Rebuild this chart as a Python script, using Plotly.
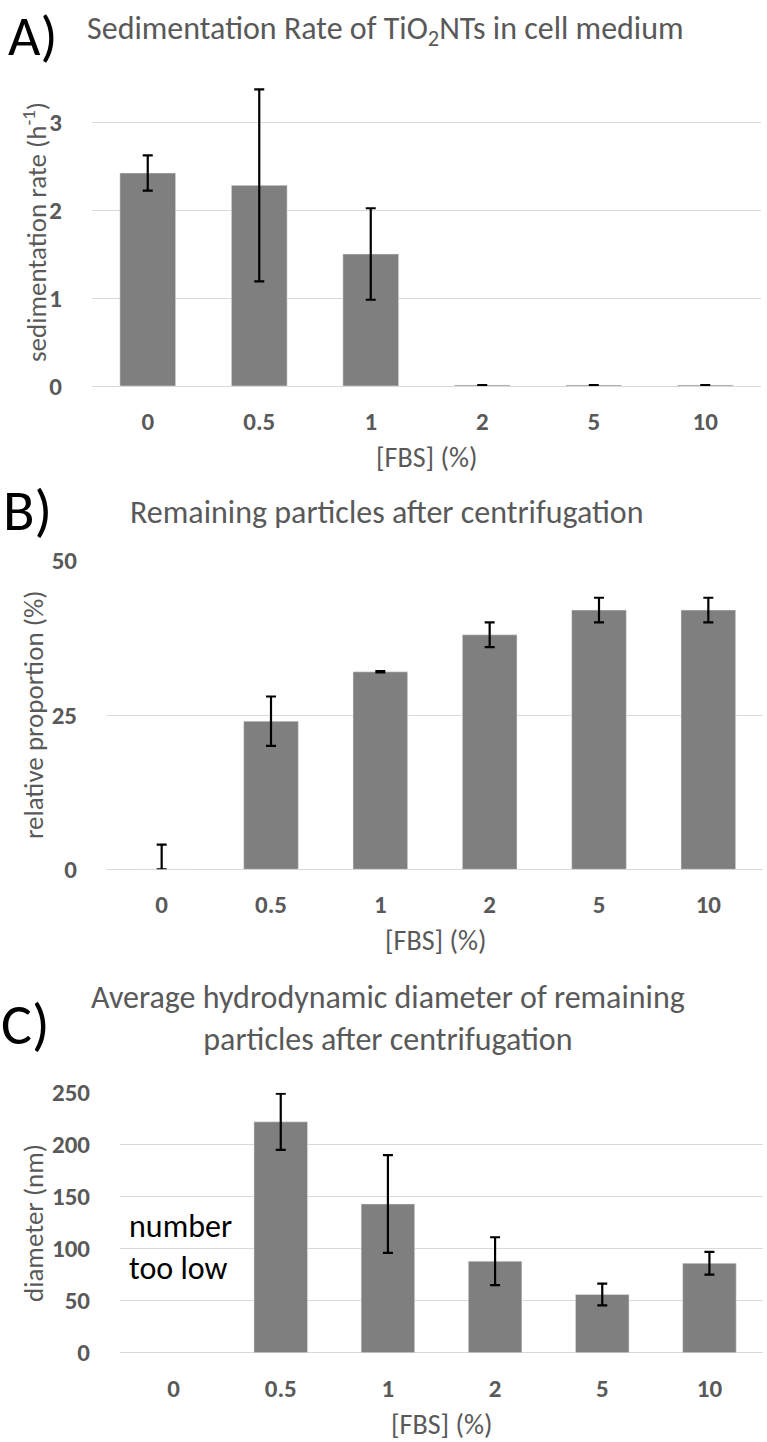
import plotly.graph_objects as go

W, H = 767, 1442

categories = ["0", "0.5", "1", "2", "5", "10"]

# Panel A: sedimentation rate (h^-1)
sed_rate = [2.42, 2.28, 1.50, 0.01, 0.01, 0.01]
sed_err = [0.20, 1.09, 0.52, None, None, None]

# Panel B: remaining particles (%)
remain = [0, 24, 32, 38, 42, 42]
remain_err_plus = [4, 4, 0.1, 2, 2, 2]
remain_err_minus = [0, 4, 0.1, 2, 2, 2]

# Panel C: hydrodynamic diameter (nm)
diam = [None, 222, 143, 88, 56, 86]
diam_err = [None, 27, 47, 23, 10.5, 11]

FONT = "Carlito, Lato, Liberation Sans, Arial"
GREY = "#595959"
BAR = "#7f7f7f"
GRID = "#d9d9d9"

def px_x(p):
    return p / W

def px_y(p):
    return 1 - p / H

fig = go.Figure()

err_style = dict(color="black", thickness=2.2, width=5)

fig.add_trace(go.Bar(x=categories, y=sed_rate, marker_color=BAR,
                     error_y=dict(type="data", array=sed_err, **err_style),
                     xaxis="x", yaxis="y", showlegend=False))
fig.add_trace(go.Bar(x=categories, y=remain, marker_color=BAR,
                     error_y=dict(type="data", symmetric=False, array=remain_err_plus,
                                  arrayminus=remain_err_minus, **err_style),
                     xaxis="x2", yaxis="y2", showlegend=False))
fig.add_trace(go.Bar(x=categories, y=diam, marker_color=BAR,
                     error_y=dict(type="data", array=diam_err, **err_style),
                     xaxis="x3", yaxis="y3", showlegend=False))

TICKFONT = dict(family=FONT, size=25, color=GREY, weight="bold")

def xaxis(dom, anchor):
    return dict(domain=[px_x(dom[0]), px_x(dom[1])], anchor=anchor, type="category",
                showgrid=False, zeroline=False, showline=False,
                ticks="outside", ticklen=13, tickcolor="rgba(0,0,0,0)",
                tickfont=TICKFONT, fixedrange=True)

def yaxis(dom, rng, dtick, anchor):
    return dict(domain=[px_y(dom[1]), px_y(dom[0])], anchor=anchor, range=rng, dtick=dtick,
                showgrid=True, gridcolor=GRID, gridwidth=1.4,
                zeroline=True, zerolinecolor=GRID, zerolinewidth=1.4, showline=False,
                ticks="outside", ticklen=24, tickcolor="rgba(0,0,0,0)",
                tickfont=TICKFONT, fixedrange=True)

fig.update_layout(
    width=W, height=H,
    margin=dict(l=0, r=0, t=0, b=0, autoexpand=False),
    paper_bgcolor="white", plot_bgcolor="white",
    bargap=0.5,
    xaxis=xaxis([92, 761], "y"),
    yaxis=yaxis([78, 386], [0, 3.5], 1, "x"),
    xaxis2=xaxis([107, 763], "y2"),
    yaxis2=yaxis([560.7, 869.3], [0, 50], 25, "x2"),
    xaxis3=xaxis([120, 763], "y3"),
    yaxis3=yaxis([1092.7, 1352.7], [0, 250], 50, "x3"),
)

ann = []
def text(x, y, s, size, color=GREY, xanchor="center", yanchor="middle", angle=0, align="center"):
    ann.append(dict(x=px_x(x), y=px_y(y), xref="paper", yref="paper", text=s, showarrow=False,
                    font=dict(family=FONT, size=size, color=color), xanchor=xanchor,
                    yanchor=yanchor, textangle=angle, align=align))

# Panel labels
text(32, 0, "A)", 56, color="black", yanchor="top")
text(28, 510, "B)", 58, color="black")
text(25, 1024, "C)", 58, color="black")

# Titles
text(385, 31, "Sedimentation Rate of TiO<sub>2</sub>NTs in cell medium", 32)
text(387, 512, "Remaining particles after centrifugation", 32)
text(388, 1018, "Average hydrodynamic diameter of remaining<br>particles after centrifugation", 32)

# Axis titles
text(426.5, 457, "[FBS] (%)", 28)
text(435, 940, "[FBS] (%)", 28)
text(441.5, 1424, "[FBS] (%)", 28)
text(35, 232, "sedimentation rate (h<sup>-1</sup>)", 27, angle=-90)
text(33, 715, "relative proportion (%)", 27, angle=-90)
text(33, 1223, "diameter (nm)", 27, angle=-90)

# Note
text(127, 1247, "number<br>too low", 32, color="black", xanchor="left", align="left")

fig.update_layout(annotations=ann)

fig.write_html("out.html", config={"displayModeBar": False},
               post_script="document.body.style.margin='0';")
